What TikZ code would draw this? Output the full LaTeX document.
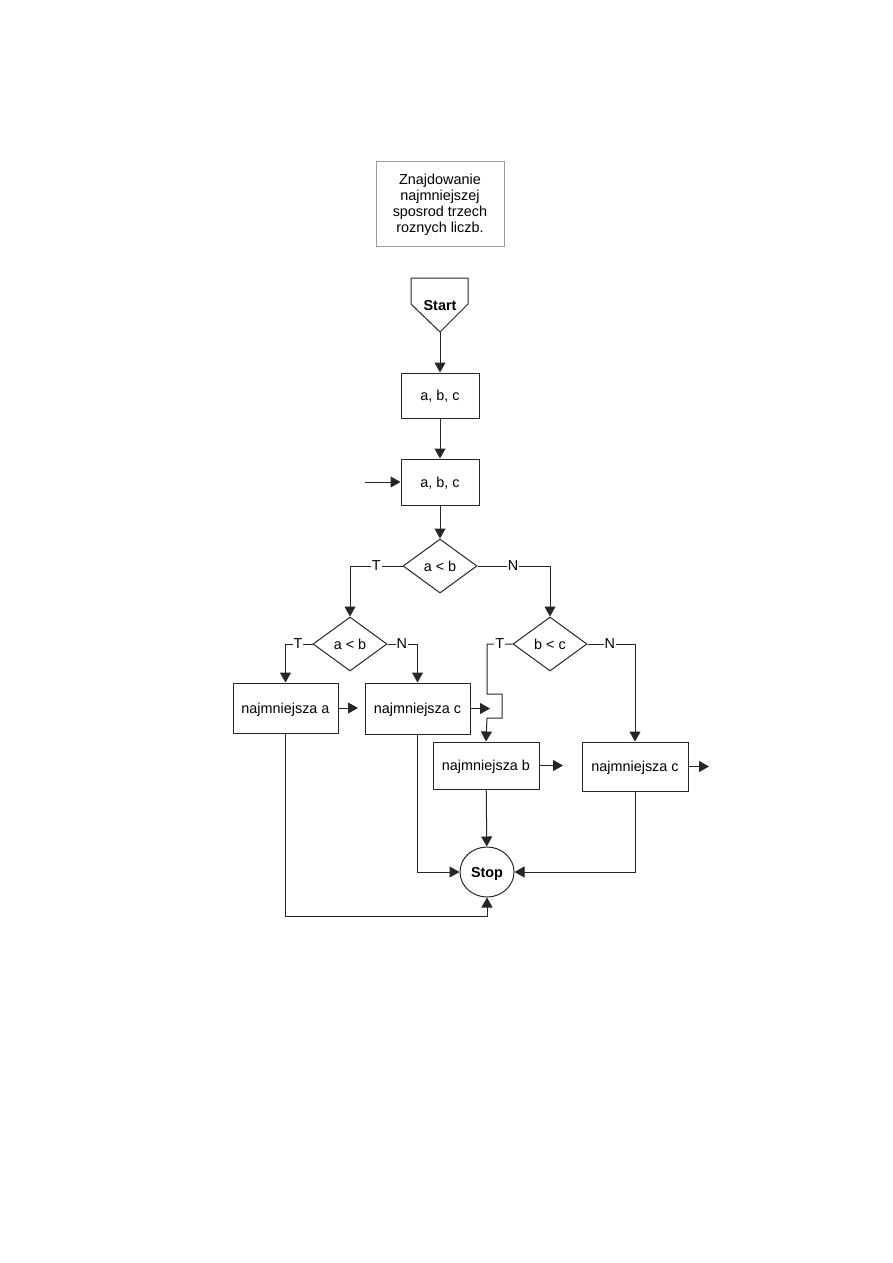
\documentclass[tikz,border=0pt]{standalone}
\usepackage{fontspec}
\setmainfont{Liberation Sans}
\usetikzlibrary{arrows.meta,shapes.geometric}
\begin{document}
\begin{tikzpicture}[x=1pt,y=-1pt,
  every node/.style={font=\fontsize{14.4}{16}\selectfont},
  ln/.style={line width=1pt,draw=black!85},
  arr/.style={ln,-{Triangle[length=10pt,width=11pt]}},
  boxnode/.style={draw=black!85,line width=1pt,rectangle,inner sep=0pt,align=center,text depth=0pt},
  dec/.style={draw=black!85,line width=1pt,diamond,inner sep=0pt,minimum width=74pt,minimum height=54pt,text depth=0pt},
  lbl/.style={fill=white,inner sep=1pt}
]
\useasboundingbox (0,0) rectangle (893,1263);
% title
\node[boxnode,draw=black!40,minimum width=128pt,minimum height=85pt] (title) at (440,203.5)
  {Znajdowanie\\najmniejszej\\sposrod trzech\\roznych liczb.};
% start
\draw[ln] (411,278) -- (468,278) -- (468,304) -- (440,332) -- (411,304) -- cycle;
\node[font=\fontsize{14.4}{16}\selectfont\bfseries,text depth=0pt] (start) at (440,305) {Start};
\coordinate (starttip) at (440,332);
% boxes
\node[boxnode,minimum width=78pt,minimum height=45pt] (in1) at (440,395.5) {a, b, c};
\node[boxnode,minimum width=78pt,minimum height=46pt] (in2) at (440,482) {a, b, c};
\coordinate (inL) at (365,482);
% decisions
\node[dec] (d1) at (440,566) {a < b};
\node[dec] (d2) at (350,644) {a < b};
\node[dec] (d3) at (550,644) {b < c};
% result boxes
\node[boxnode,minimum width=105pt,minimum height=50pt] (na) at (285.5,708) {najmniejsza a};
\node[boxnode,minimum width=105pt,minimum height=51pt] (nc1) at (417.5,708.5) {najmniejsza c};
\node[boxnode,minimum width=106pt,minimum height=47pt] (nb) at (486,765.5) {najmniejsza b};
\node[boxnode,minimum width=106pt,minimum height=49pt] (nc2) at (635,766.5) {najmniejsza c};
% stop
\node[draw=black!85,line width=1pt,ellipse,inner sep=0pt,minimum width=54pt,minimum height=50pt,text depth=0pt,
  font=\fontsize{14.4}{16}\selectfont\bfseries] (stop) at (487,872) {Stop};
% free ends
\coordinate (naE) at (358,708);
\coordinate (nc1E) at (490,708.5);
\coordinate (nbE) at (563,765.5);
\coordinate (nc2E) at (709,766.5);
\coordinate (nab) at (487,916);
% connectors
\draw[arr] (starttip) -- (in1);
\draw[arr] (in1) -- (in2);
\draw[arr] (inL) -- (in2);
\draw[arr] (in2) -- (d1);
\draw[arr] (d1.west) -| (d2.north) node[pos=0.25,lbl] {T};
\draw[arr] (d1.east) -| (d3.north) node[pos=0.245,lbl] {N};
\draw[arr] (d2.west) -| (na) node[pos=0.27,lbl] {T};
\draw[arr] (d2.east) -| (nc1) node[pos=0.24,lbl] {N};
\draw[arr] (d3.west) -- (487,644) node[pos=0.5,lbl] {T} -- (487,694) -- (502,694) -- (502,718) -- (487,718) -- (nb.north);
\draw[arr] (d3.east) -| (nc2) node[pos=0.235,lbl] {N};
\draw[arr] (na) -- (naE);
\draw[arr] (nc1) -- (nc1E);
\draw[arr] (nb) -- (nbE);
\draw[arr] (nc2) -- (nc2E);
\draw[arr] (nb) -- (stop);
\draw[arr] (nc1) |- (stop);
\draw[arr] (nc2) |- (stop);
\draw[arr] (na) |- (nab) -- (stop.south);
\end{tikzpicture}
\end{document}
